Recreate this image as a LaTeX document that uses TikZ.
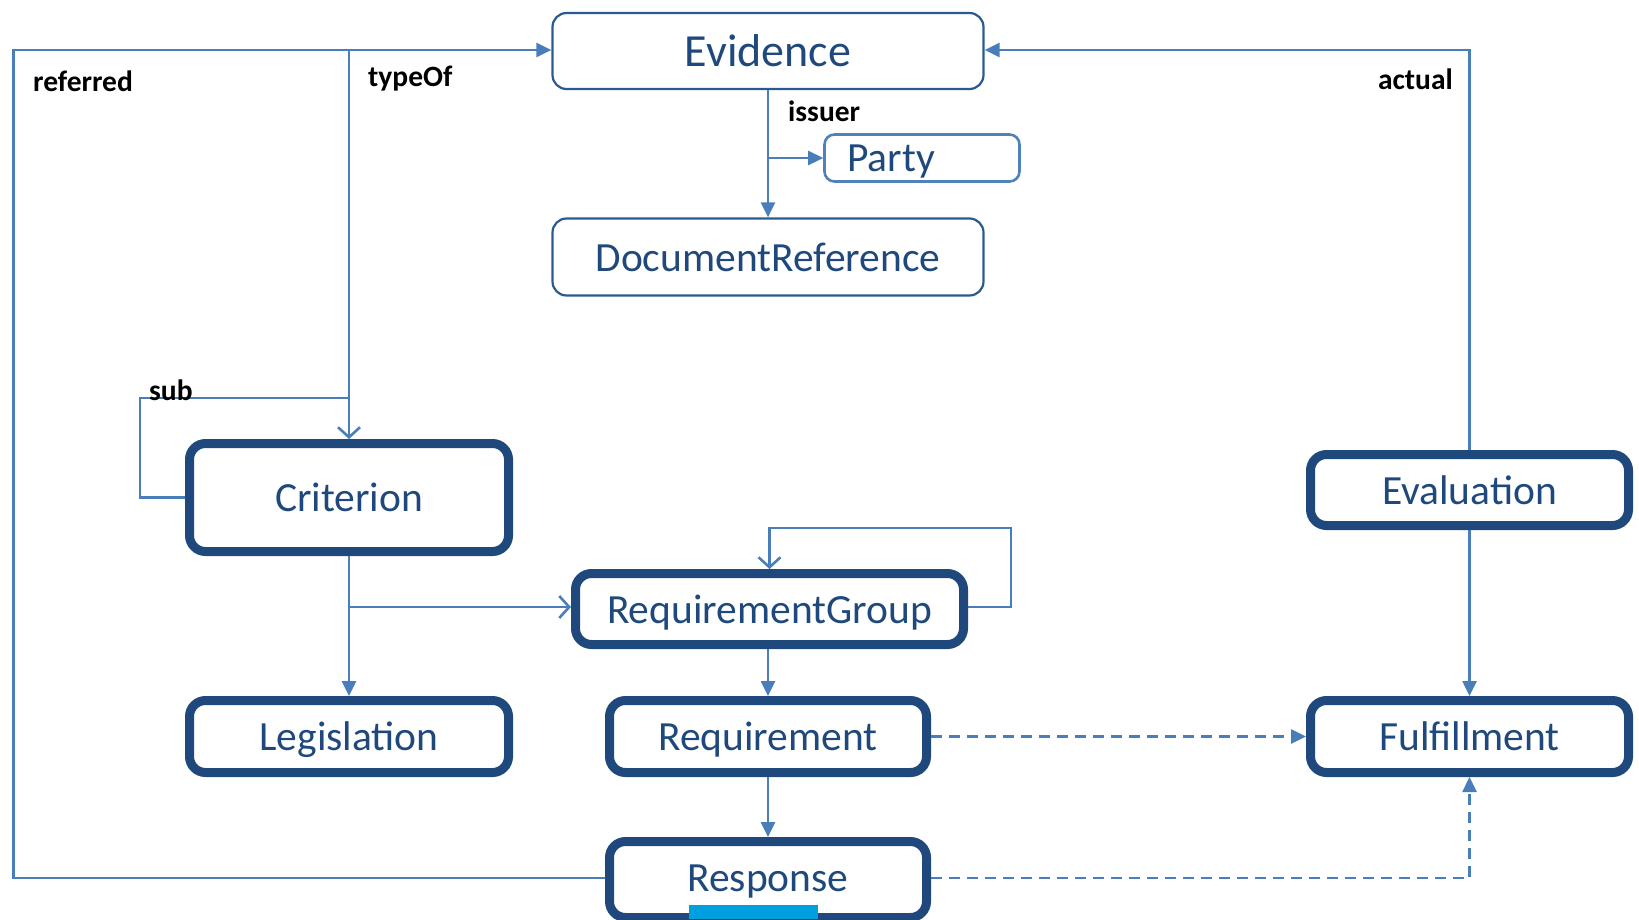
\documentclass[tikz,border=0pt]{standalone}
\usepackage{fontspec}
\setmainfont{Carlito}
\usetikzlibrary{arrows.meta}
\definecolor{navy}{HTML}{1F497D}
\definecolor{conn}{HTML}{4A7EBB}
\definecolor{thinb}{HTML}{2B5A91}
\definecolor{partyb}{HTML}{4F81BD}
\definecolor{cyanbar}{HTML}{00A0E0}
\tikzset{
  thickbox/.style={draw=navy, line width=9pt, rounded corners=16pt, inner sep=0pt, text=navy,
    text depth=0pt, font=\fontsize{41.5}{48}\selectfont},
  thinbox/.style={draw=thinb, line width=2.2pt, rounded corners=14pt, inner sep=0pt, text=navy,
    text depth=0pt, font=\fontsize{41.5}{48}\selectfont},
  conline/.style={draw=conn, line width=2.6pt},
  fillarrow/.style={conline, -{Triangle[length=15pt,width=14pt]}},
  openarrow/.style={conline, -{Straight Barb[length=10pt,width=22pt,line width=2.6pt]}},
  dashline/.style={conline, dash pattern=on 11pt off 7pt},
  lbl/.style={font=\fontsize{29.5}{34}\selectfont\bfseries, text=black, inner sep=0pt}
}
\begin{document}
\begin{tikzpicture}[x=1pt,y=-1pt]
\useasboundingbox (0,0) rectangle (1639,919);
% nodes
\node[thinbox, minimum width=431pt, minimum height=76pt, font=\fontsize{46}{52}\selectfont] (ev) at (768,51) {Evidence};
\node[thinbox, minimum width=431pt, minimum height=77pt] (dr) at (768,257) {DocumentReference};
\node[thinbox, draw=partyb, line width=2.6pt, rounded corners=10pt, minimum width=195pt, minimum height=47pt] (party) at (922,158) {Party\rule{62pt}{0pt}};
\node[thickbox, minimum width=319pt, minimum height=108pt] (crit) at (349,497.5) {Criterion};
\node[thickbox, minimum width=319pt, minimum height=72pt] (leg) at (349,736.5) {Legislation};
\node[thickbox, minimum width=388pt, minimum height=71pt] (rg) at (769.5,609) {RequirementGroup};
\node[thickbox, minimum width=317pt, minimum height=72pt] (req) at (768,736.5) {Requirement};
\node[thickbox, minimum width=317pt, minimum height=76pt] (resp) at (768,879.5) {\raisebox{2.5pt}{Response}};
\node[thickbox, minimum width=318pt, minimum height=71pt] (evl) at (1469.5,490) {Evaluation};
\node[thickbox, minimum width=318pt, minimum height=72pt] (ful) at (1469.5,736.5) {Fulfillment};
\fill[cyanbar] (689,904.5) rectangle (818,919);
% helper coordinates
\coordinate (tl) at (13.6,50);
\coordinate (sb) at (140,398);
\coordinate (rgl) at (1011,528);
% connectors
\draw[fillarrow] (ev.south) -- (dr.north);
\draw[fillarrow] (ev.south |- party.west) -- (party.west);
\draw[fillarrow] (resp.west |- 0,878) -| (tl) -- (tl -| ev.west);
\draw[openarrow] (crit.north |- tl) -- (crit.north);
\draw[conline] (crit.west) -| (sb) -- (crit.north |- sb);
\draw[fillarrow] (evl.north) |- (tl -| ev.east);
\draw[fillarrow] (evl.south) -- (ful.north);
\draw[fillarrow] (crit.south) -- (leg.north);
\draw[openarrow] (crit.south |- 0,607) -- (rg.west |- 0,607);
\draw[openarrow] (rg.east |- 0,607) -| (rgl) -| (rg.north);
\draw[fillarrow] (req.north |- rg.south) -- (req.north);
\draw[fillarrow] (req.south) -- (resp.north);
\draw[dashline, -{Triangle[length=15pt,width=14pt]}] (req.east) -- (ful.west);
\draw[dashline, -{Triangle[length=15pt,width=14pt]}] (resp.east |- 0,878) -| (ful.south);
% labels
\node[lbl, anchor=west] (lref) at (33,81) {referred};
\node[lbl, anchor=west] (ltype) at (368,79) {typeOf};
\node[lbl, anchor=west] (liss) at (788,111) {issuer};
\node[lbl, anchor=east] (lact) at (1453,79) {actual};
\node[lbl, anchor=south west] (lsub) at (149,401) {sub};
\end{tikzpicture}
\end{document}
